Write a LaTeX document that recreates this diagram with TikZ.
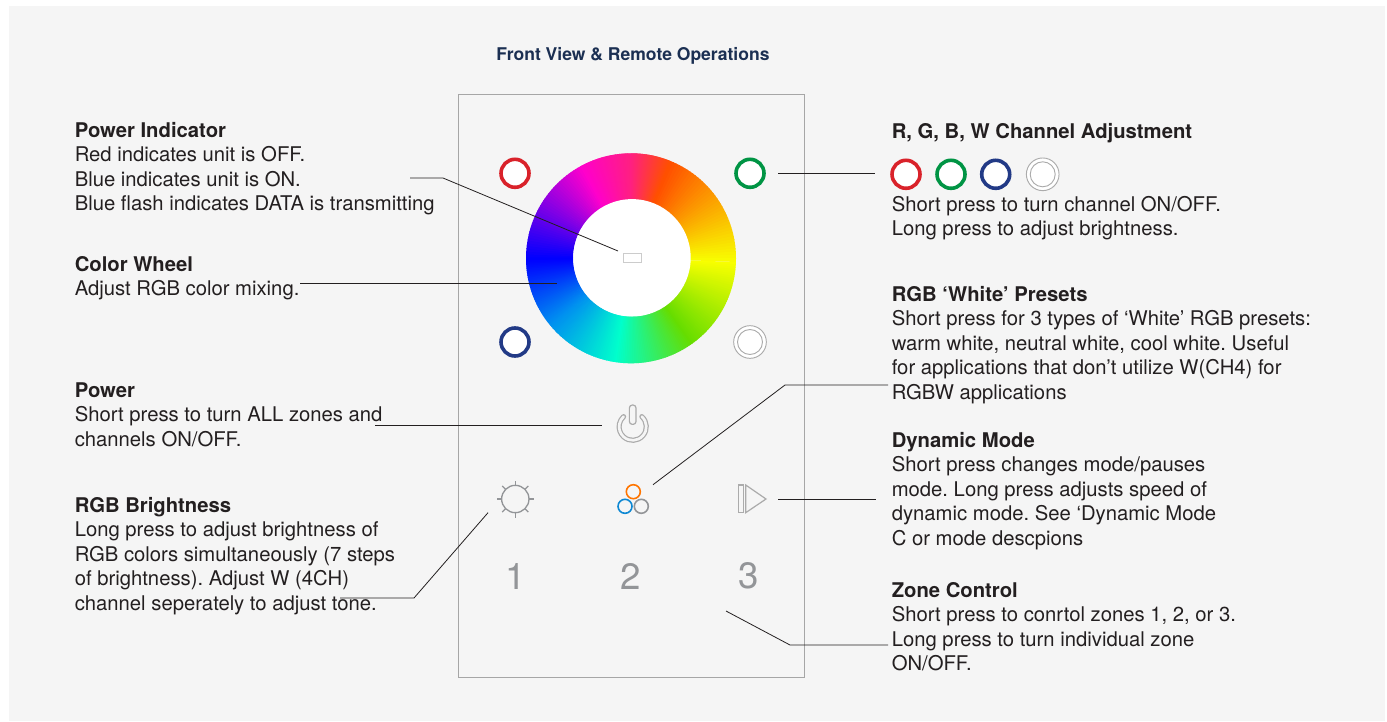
\documentclass[tikz,border=0pt]{standalone}
\usepackage{fontspec}
\setmainfont{TeX Gyre Heros}
\usetikzlibrary{calc}
\frenchspacing
\definecolor{panelbg}{HTML}{F5F5F5}
\definecolor{framegray}{HTML}{A6A6A6}
\definecolor{icongray}{HTML}{ABABAB}
\definecolor{digitgray}{HTML}{939598}
\definecolor{titleblue}{HTML}{1B2F52}
\definecolor{btnred}{HTML}{D9222A}
\definecolor{btngreen}{HTML}{009444}
\definecolor{btnblue}{HTML}{223A86}
\definecolor{textdark}{HTML}{231F20}
\definecolor{c0}{HTML}{F8FF00}
\definecolor{c1}{HTML}{66DD00}
\definecolor{c2}{HTML}{00FFCC}
\definecolor{c3}{HTML}{0090F0}
\definecolor{c4}{HTML}{0000FF}
\definecolor{c5}{HTML}{FF00CC}
\definecolor{c6}{HTML}{FF2080}
\definecolor{c7}{HTML}{FF5000}
\newcommand{\wheelpart}[4]{%
  \foreach \i in {0,...,39}{
    \pgfmathsetmacro{\p}{\i*100/40}
    \pgfmathsetmacro{\a}{#1+(#3-#1)*\i/40}
    \pgfmathsetmacro{\b}{#1+(#3-#1)*(\i+1)/40+0.5}
    \fill[color=#4!\p!#2] (\a:105) arc[start angle=\a,end angle=\b,radius=105]
      -- (\b:58) arc[start angle=\b,end angle=\a,radius=58] -- cycle;
  }%
}
\tikzset{
  x=0.75pt,
  y=-0.75pt,
  leader/.style={draw=textdark,line width=0.6pt},
  info/.style={
    anchor=north west,
    inner sep=0pt,
    align=left,
    font=\fontsize{15.2}{18.4}\selectfont,
    text=textdark
  },
  ctrl/.style={
    circle,
    draw=#1,
    fill=white,
    line width=2.7pt,
    minimum size=21pt,
    inner sep=0pt
  },
  white ctrl/.style={
    circle,
    draw=icongray,
    fill=white,
    line width=0.7pt,
    minimum size=24.5pt,
    inner sep=0pt,
    path picture={\draw[icongray,line width=0.7pt] (path picture bounding box.center) circle[radius=12.5];}
  },
  ring/.style={circle,draw=#1,line width=1.2pt,minimum size=10.5pt,inner sep=0pt},
  icon/.style={draw=icongray,line width=0.9pt},
  zone/.style={font=\fontsize{27.5}{27.5}\selectfont,text=digitgray}
}
\begin{document}
\begin{tikzpicture}
\useasboundingbox (0,0) rectangle (1387,721);
\fill[panelbg] (9,6) rectangle (1385,721);
\draw[framegray,line width=0.7pt] (458,94) rectangle (804,677);
\node[anchor=base,inner sep=0pt,font=\fontsize{13.15}{15}\selectfont\bfseries,text=titleblue] (title) at (633,60) {Front View \& Remote Operations};
% wheel
\begin{scope}[shift={(631,258.3)}]
\wheelpart{2}{c0}{54}{c1}
\wheelpart{54}{c1}{98}{c2}
\wheelpart{98}{c2}{140}{c3}
\wheelpart{140}{c3}{179}{c4}
\wheelpart{179}{c4}{241}{c5}
\wheelpart{241}{c5}{270}{c6}
\wheelpart{270}{c6}{292}{c7}
\wheelpart{292}{c7}{361.5}{c0}
\fill[white] (1,-0.5) circle[radius=58.7];
\end{scope}
\node[draw=black!20,line width=0.7pt,fill=white,minimum width=13.5pt,minimum height=7pt,inner sep=0pt] (indicator) at (632.5,258) {};
% channel buttons
\node[ctrl=btnred]   (red)   at (515,173.3) {};
\node[ctrl=btngreen] (green) at (750,173.3) {};
\node[ctrl=btnblue]  (blue)  at (515,342) {};
\node[white ctrl]    (white) at (750,342) {};
% power
\coordinate (powerc) at (632.7,426.7);
\draw[icon,double=panelbg,double distance=2pt,line cap=round] ($(powerc)+(-48:13.6)$) arc[start angle=-48,end angle=228,radius=13.6];
\node[draw=icongray,fill=panelbg,line width=0.9pt,rounded corners=2.2pt,minimum width=5pt,minimum height=14.5pt,inner sep=0pt] (power) at (632.7,414.7) {};
% sun
\node[circle,draw=digitgray,line width=1pt,minimum size=20.5pt,inner sep=0pt] (sun) at (515.3,499) {};
\foreach \r in {0,45,...,315}
  \draw[digitgray,line width=0.9pt] ($(sun)+(\r:14)$) -- ($(sun)+(\r:18.5)$);
% presets
\node[ring=digitgray] (ringgray) at (641.3,506.3) {};
\node[ring=orange!80!red!90!yellow] (ringorange) at (633.3,491.7) {};
\node[ring=cyan!70!blue] (ringblue) at (625,506.3) {};
% dynamic mode
\draw[icon] (738.3,485) rectangle (743.3,512.7);
\draw[icon] (745.7,485) -- (766,499) -- (745.7,512.7) -- cycle;
% zones
\node[zone] (zone1) at (515.5,576) {1};
\node[zone] (zone2) at (631,576) {2};
\node[zone] (zone3) at (749,576) {3};
% left column
\node[info] (powerind) at (74.5,122) {\textbf{Power Indicator}\\Red indicates unit is OFF.\\Blue indicates unit is ON.\\Blue flash indicates DATA is transmitting};
\node[info] (wheeltxt) at (74.5,256) {\textbf{Color Wheel}\\Adjust RGB color mixing.};
\node[info] (powertxt) at (74.5,382) {\textbf{Power}\\Short press to turn ALL zones and\\channels ON/OFF.};
\node[info] (brighttxt) at (74.5,497) {\textbf{RGB Brightness}\\Long press to adjust brightness of\\RGB colors simultaneously (7 steps\\of brightness). Adjust W (4CH)\\channel seperately to adjust tone.};
% right column
\node[info] (chantitle) at (891.5,123) {\textbf{R, G, B, W Channel Adjustment}};
\node[ctrl=btnred]   (red2)   at (906,174.3) {};
\node[ctrl=btngreen] (green2) at (951,174.3) {};
\node[ctrl=btnblue]  (blue2)  at (995.7,174.3) {};
\node[white ctrl]    (white2) at (1042.7,174.3) {};
\node[info] (chantxt) at (891.5,196) {Short press to turn channel ON/OFF.\\Long press to adjust brightness.};
\node[info] (presettxt) at (891.5,286) {\textbf{RGB ‘White’ Presets}\\Short press for 3 types of ‘White’ RGB presets:\\warm white, neutral white, cool white. Useful\\for applications that don’t utilize W(CH4) for\\RGBW applications};
\node[info] (dyntxt) at (891.5,432) {\textbf{Dynamic Mode}\\Short press changes mode/pauses\\mode. Long press adjusts speed of\\dynamic mode. See ‘Dynamic Mode\\C or mode descpions};
\node[info] (zonetxt) at (891.5,582) {\textbf{Zone Control}\\Short press to conrtol zones 1, 2, or 3.\\Long press to turn individual zone\\ON/OFF.};
% leaders
\coordinate (a1) at (410,178);
\coordinate (a2) at (443,178);
\coordinate (a3) at (618,251);
\coordinate (b1) at (300,283);
\coordinate (b2) at (557,283);
\coordinate (c1p) at (375,425);
\coordinate (c2p) at (602,425);
\coordinate (d1) at (340,598);
\coordinate (d2) at (414,598);
\coordinate (d3) at (488,512.7);
\coordinate (e1) at (778,173);
\coordinate (e2) at (875,173);
\coordinate (f1) at (888,385);
\coordinate (f2) at (785,385);
\coordinate (f3) at (653,484.7);
\coordinate (g1) at (778,499);
\coordinate (g2) at (876,499);
\coordinate (h1) at (726,611);
\coordinate (h2) at (790,645);
\coordinate (h3) at (888,645);
\draw[leader] (a1) -- (a2) -- (a3);
\draw[leader] (b1) -- (b2);
\draw[leader] (c1p) -- (c2p);
\draw[leader] (d1) -- (d2) -- (d3);
\draw[leader] (e1) -- (e2);
\draw[leader] (f1) -- (f2) -- (f3);
\draw[leader] (g1) -- (g2);
\draw[leader] (h1) -- (h2) -- (h3);
\end{tikzpicture}
\end{document}
